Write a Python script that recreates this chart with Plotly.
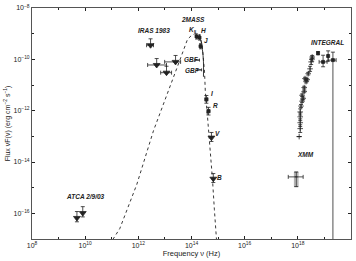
import numpy as np
import plotly.graph_objects as go

# ---- data (log10 values) ----
# model curves
dash_lognu = [11.04, 11.30, 11.94, 12.57, 13.44, 13.66, 13.85, 14.00, 14.15, 14.30, 14.41, 14.49, 14.52, 14.60, 14.67, 14.79, 14.86, 14.94]
dash_logf  = [-17.02, -16.60, -14.88, -12.78, -10.37, -9.72, -9.22, -9.07, -8.99, -9.03, -9.53, -10.49, -11.25, -12.21, -13.05, -14.69, -15.84, -17.02]
solid_lognu = [14.15, 14.34, 14.41, 14.45, 14.45]
solid_logf  = [-9.03, -9.22, -9.61, -10.10, -10.68]

# IRAS 1983
iras_lognu = [12.46, 12.69, 13.06, 13.40]
iras_logf  = [-9.45, -10.22, -10.52, -10.10]
iras_lo    = [12.31, 12.35, 12.84, 12.99]
iras_hi    = [12.57, 13.06, 13.25, 13.59]

# ATCA 2/9/03
atca_lognu = [9.69, 9.91]
atca_logf  = [-16.18, -15.99]

# 2MASS Ks, H, J
tm_lognu = [14.19, 14.30, 14.34]
tm_logf  = [-9.11, -9.15, -9.49]

# GBF
gbf_lognu = [14.22, 14.30]
gbf_logf  = [-10.03, -10.41]

# optical I, R, V, B
opt_lognu = [14.56, 14.64, 14.75, 14.82]
opt_logf  = [-11.56, -12.02, -13.05, -14.65]

# XMM
xmm_lognu = [17.94]
xmm_logf  = [-14.58]
xmm_nulo, xmm_nuhi = [17.64], [18.20]
xmm_flo, xmm_fhi = [-14.96], [-14.39]

# X-ray series
xr_lognu = [18.05, 18.09, 18.09, 18.09, 18.09, 18.12, 18.16, 18.20, 18.16, 18.24, 18.24, 18.31, 18.27, 18.35, 18.39, 18.46, 18.50, 18.54, 18.54]
xr_logf  = [-13.01, -12.70, -12.47, -12.24, -12.05, -11.82, -11.63, -11.52, -11.40, -11.25, -11.10, -10.87, -10.75, -10.79, -10.56, -10.37, -10.10, -9.99, -9.91]
xr_err   = [0.0, 0.15, 0.15, 0.15, 0.12, 0.06, 0.05, 0.05, 0.05, 0.05, 0.05, 0.05, 0.05, 0.05, 0.05, 0.1, 0.1, 0.08, 0.06]

# INTEGRAL
int_lognu = [18.76, 18.95, 19.14, 19.32]
int_logf  = [-9.76, -10.10, -9.87, -10.03]
int_nulo  = [18.76, 18.80, 19.14, 19.14]
int_nuhi  = [18.76, 19.10, 19.14, 19.44]
int_fup   = [-9.70, -9.84, -9.67, -9.72]
int_fdn   = [-9.82, -10.29, -10.07, -18.0]

x_major = [8, 10, 12, 14, 16, 18, 20]
x_minor = [9, 11, 13, 15, 17, 19]
y_major = [-16, -14, -12, -10, -8]
y_minor = [-17, -15, -13, -11, -9]

INK = "#222222"
P = lambda a: 10 ** np.asarray(a, dtype=float)

fig = go.Figure()

def add(lognu, logf, symbol, size, ex_lo=None, ex_hi=None, ey_lo=None, ey_hi=None, cw=1.5):
    x = P(lognu); y = P(logf)
    kw = {}
    if ex_lo is not None:
        kw["error_x"] = dict(type="data", symmetric=False, array=P(ex_hi) - x, arrayminus=x - P(ex_lo),
                             color=INK, thickness=0.8, width=cw)
    if ey_lo is not None:
        kw["error_y"] = dict(type="data", symmetric=False, array=P(ey_hi) - y, arrayminus=y - P(ey_lo),
                             color=INK, thickness=0.8, width=cw)
    fig.add_trace(go.Scatter(x=x, y=y, mode="markers",
                             marker=dict(symbol=symbol, size=size, color=INK,
                                         line=dict(color=INK, width=0.8)), showlegend=False, **kw))

# model curves
fig.add_trace(go.Scatter(x=P(dash_lognu), y=P(dash_logf), mode="lines", line=dict(color=INK, width=0.9, dash="3px,3px"),
                         showlegend=False))
fig.add_trace(go.Scatter(x=P(solid_lognu), y=P(solid_logf), mode="lines", line=dict(color=INK, width=0.9),
                         showlegend=False, line_shape="spline"))

# XMM grey box
bx0 = np.asarray(xmm_lognu) - 0.07; bx1 = np.asarray(xmm_lognu) + 0.07
fig.add_trace(go.Scatter(x=P([bx0[0], bx1[0], bx1[0], bx0[0], bx0[0]]),
                         y=P([xmm_flo[0], xmm_flo[0], xmm_fhi[0], xmm_fhi[0], xmm_flo[0]]),
                         mode="lines", fill="toself", fillcolor="#c8c8c8", line=dict(color="#888", width=0.6),
                         showlegend=False))

# IRAS
add(iras_lognu, iras_logf, "triangle-down", 6, iras_lo, iras_hi,
    iras_logf, list(np.asarray(iras_logf) + 0.25), cw=2)
# ATCA
add(atca_lognu, atca_logf, "triangle-down", 6, None, None,
    list(np.asarray(atca_logf) - 0.15), list(np.asarray(atca_logf) + 0.25), cw=2)
# 2MASS
add(tm_lognu, tm_logf, "square", 3, list(np.asarray(tm_lognu) - 0.04), list(np.asarray(tm_lognu) + 0.04),
    list(np.asarray(tm_logf) - 0.1), list(np.asarray(tm_logf) + 0.1), cw=1.5)
# GBF
add(gbf_lognu, gbf_logf, "line-ew", 3, list(np.asarray(gbf_lognu) - 0.08), list(np.asarray(gbf_lognu) + 0.08), cw=1.5)
# optical
add(opt_lognu[:2], opt_logf[:2], "square", 3, list(np.asarray(opt_lognu[:2]) - 0.05), list(np.asarray(opt_lognu[:2]) + 0.05),
    list(np.asarray(opt_logf[:2]) - 0.15), list(np.asarray(opt_logf[:2]) + 0.15), cw=2)
add(opt_lognu[2:], opt_logf[2:], "triangle-down", 6, None, None,
    list(np.asarray(opt_logf[2:]) - 0.15), list(np.asarray(opt_logf[2:]) + 0.2), cw=2)
# XMM
add(xmm_lognu, xmm_logf, "line-ew", 2, xmm_nulo, xmm_nuhi, xmm_flo, xmm_fhi, cw=2)
# X-ray series
add(xr_lognu, xr_logf, "cross-thin", 4, None, None,
    list(np.asarray(xr_logf) - np.asarray(xr_err)), list(np.asarray(xr_logf) + np.asarray(xr_err)), cw=2)
# INTEGRAL
add(int_lognu, int_logf, "square", 3, int_nulo, int_nuhi, int_fdn, int_fup, cw=2)

# labels
ann = [
    ("IRAS 1983", 12.60, -8.88),
    ("2MASS", 14.05, -8.45),
    ("K<sub>s</sub>", 14.06, -8.85),
    ("H", 14.45, -8.88),
    ("J", 14.53, -9.25),
    ("GBF", 14.00, -10.00),
    ("GBF", 14.05, -10.45),
    ("I", 14.78, -11.35),
    ("R", 14.92, -11.80),
    ("V", 14.97, -12.90),
    ("B", 15.07, -14.62),
    ("ATCA 2/9/03", 10.00, -15.35),
    ("XMM", 18.30, -13.70),
    ("INTEGRAL", 19.12, -9.35),
]
for t, lx, ly in ann:
    fig.add_annotation(x=lx, y=ly, text="<b><i>" + t + "</i></b>", showarrow=False,
                       font=dict(size=6.5, color=INK, family="Liberation Sans"), xanchor="center", yanchor="middle")

def sup(n):
    return "10<sup>" + str(n).replace("-", "\u2212") + "</sup>"

common = dict(type="log", ticks="inside", ticklen=3, tickcolor=INK, showline=True, linecolor="#555", linewidth=1,
              mirror="ticks", showgrid=False, zeroline=False, tickfont=dict(size=7, color=INK))
fig.update_xaxes(range=[8, 20], tickvals=P(x_major), ticktext=[sup(v) for v in x_major],
                 minor=dict(tickvals=P(x_minor), ticks="inside", ticklen=2, tickcolor=INK, showgrid=False),
                 title=dict(text="Frequency \u03bd (Hz)", font=dict(size=7.5, color=INK), standoff=2), **common)
fig.update_yaxes(range=[-17, -8], tickvals=P(y_major), ticktext=[sup(v) for v in y_major],
                 minor=dict(tickvals=P(y_minor), ticks="inside", ticklen=2, tickcolor=INK, showgrid=False),
                 title=dict(text="Flux \u03bdF(\u03bd) (erg cm<sup>\u22122</sup> s<sup>\u22121</sup>)",
                            font=dict(size=7, color=INK), standoff=2), **common)
fig.update_layout(width=356, height=261, margin=dict(l=32, r=4, t=5, b=20),
                  paper_bgcolor="white", plot_bgcolor="white",
                  font=dict(family="Liberation Sans", color=INK))

fig.write_html("out.html")
